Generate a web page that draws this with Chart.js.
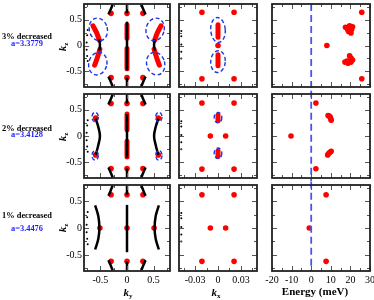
<!DOCTYPE html>
<html>
<head>
<meta charset="utf-8">
<script src="https://cdn.jsdelivr.net/npm/chart.js@4.4.0/dist/chart.umd.min.js"></script>
<style>
  body { margin: 0; width: 374px; height: 300px; position: relative; background: #fff; overflow: hidden; font-family: 'Liberation Serif', serif; }
  canvas { position: absolute; }
  .txt { position: absolute; white-space: nowrap; transform: translate(-50%, -50%); line-height: 1; }
  .row-name { font-weight: bold; font-size: 8.4px; color: #000; }
  .row-a { font-weight: bold; font-size: 8.4px; color: #1a1aff; }
  .ax { font-size: 11px; font-weight: bold; }
  .ax sub { font-size: 7px; vertical-align: -2px; }
  .rot { transform: translate(-50%, -50%) rotate(-90deg); }
</style>
</head>
<body>
<script>
// ---- axes ----
const kyTicks = [-0.75, -0.5, -0.25, 0, 0.25, 0.5, 0.75];
const kyLabels = [-0.5, 0, 0.5];
const kxTicks = [-0.045, -0.03, -0.015, 0, 0.015, 0.03, 0.045];
const kxLabels = [-0.03, 0, 0.03];
const kzTicks = [-0.75, -0.5, -0.25, 0, 0.25, 0.5, 0.75];
const kzLabels = [-0.5, 0, 0.5];
const energyTicks = [-20, -15, -10, -5, 0, 5, 10, 15, 20, 25, 30];
const energyLabels = [-20, -10, 0, 10, 20, 30];

const rowNames = ['3% decreased', '2% decreased', '1% decreased'];
const latticeA = ['a=3.3779', 'a=3.4128', 'a=3.4476'];

// ---- column 1: k_y vs k_z ----
const hooks = [
  [[-0.35, 0.6], [-0.31, 0.69], [-0.27, 0.79]],
  [[0, 0.62], [0, 0.79]],
  [[0.35, 0.6], [0.31, 0.69], [0.27, 0.79]],
  [[-0.35, -0.6], [-0.31, -0.69], [-0.27, -0.79]],
  [[0, -0.62], [0, -0.79]],
  [[0.35, -0.6], [0.31, -0.69], [0.27, -0.79]]
];
const edgeDots = [[-0.3, 0.62], [0, 0.62], [0.3, 0.62], [-0.3, -0.62], [0, -0.62], [0.3, -0.62]];
const kyEdgeBits = [[-0.74, 0.3], [-0.75, 0.2], [-0.76, 0.06], [-0.76, -0.08], [-0.75, -0.2], [-0.74, -0.3]];

const ky3Black = [
  [[0, 0.46], [0, -0.48]],
  [[-0.52, 0.12], [-0.51, 0], [-0.52, -0.1]],
  [[0.52, 0.12], [0.51, 0], [0.52, -0.1]]
];
const ky3Red = [
  [[0, 0.4], [0, 0.14]],
  [[0, -0.06], [0, -0.45]],
  [[-0.64, 0.38], [-0.57, 0.24], [-0.52, 0.1]],
  [[-0.51, -0.07], [-0.56, -0.24], [-0.61, -0.38]],
  [[0.64, 0.38], [0.57, 0.24], [0.52, 0.1]],
  [[0.51, -0.07], [0.56, -0.24], [0.61, -0.38]]
];
const ky3Ellipses = [[-0.54, 0.31, 0.17, 0.22, -15], [-0.55, -0.35, 0.17, 0.22, 15], [0.53, 0.31, 0.17, 0.22, 15], [0.54, -0.35, 0.17, 0.22, -15]];

const ky2Black = [
  [[0, 0.42], [0, -0.42]],
  [[-0.59, 0.33], [-0.54, 0.17], [-0.51, 0], [-0.54, -0.17], [-0.59, -0.36]],
  [[0.59, 0.33], [0.54, 0.17], [0.51, 0], [0.54, -0.17], [0.59, -0.36]]
];
const ky2Red = [[[0, 0.42], [0, 0.12]], [[0, -0.1], [0, -0.4]]];
const ky2Dots = [[-0.59, 0.34], [-0.59, -0.36], [0.59, 0.34], [0.59, -0.36]];
const ky2Ellipses = [[-0.6, 0.36, 0.06, 0.09, 0], [-0.6, -0.37, 0.06, 0.09, 0], [0.6, 0.36, 0.06, 0.09, 0], [0.6, -0.37, 0.06, 0.09, 0]];

const ky1Black = [
  [[0, 0.43], [0, -0.45]],
  [[-0.6, 0.42], [-0.54, 0.22], [-0.52, 0], [-0.54, -0.2], [-0.6, -0.4]],
  [[0.6, 0.42], [0.54, 0.22], [0.52, 0], [0.54, -0.2], [0.6, -0.4]]
];
const ky1Dots = [[-0.51, 0], [0, 0], [0.51, 0]];

// ---- column 2: k_x vs k_z ----
const kxEdgeBits = [[-0.048, 0.28], [-0.048, 0.18], [-0.048, 0.02], [-0.048, -0.12], [-0.048, -0.25]];
const kx3Dots = [[-0.021, 0.64], [0.021, 0.64], [0, 0], [-0.021, -0.64], [0.021, -0.64]];
const kx3Red = [[[0, 0.4], [0, 0.16]], [[0, -0.18], [0, -0.39]]];
const kx3Ellipses = [[0, 0.3, 0.0095, 0.24, -4], [0, -0.31, 0.0095, 0.21, 4]];
const kx2Dots = [[-0.021, 0.63], [0.021, 0.63], [-0.01, 0], [0.01, 0], [-0.021, -0.63], [0.021, -0.63]];
const kx2Red = [[[0, 0.4], [0, 0.29]], [[0, -0.28], [0, -0.39]]];
const kx2Ellipses = [[0, 0.35, 0.005, 0.1, 0], [0, -0.33, 0.005, 0.1, 0]];
const kx1Dots = [[-0.021, 0.62], [0.021, 0.62], [-0.01, 0], [0.01, 0], [-0.021, -0.62], [0.021, -0.62]];

// ---- column 3: energy vs k_z ----
const en3Dots = [[25.8, 0.64], [8, 0], [25.8, -0.64],
  [17.5, 0.35], [18.6, 0.31], [19.6, 0.38], [21.1, 0.36], [19.1, 0.27], [20.3, 0.24], [20.6, 0.31],
  [17.2, -0.32], [18.3, -0.3], [18.8, -0.34], [20.3, -0.32], [20.3, -0.24], [19.6, -0.2], [21.1, -0.28]];
const en2Dots = [[2.4, 0.63], [-10.3, 0], [2.4, -0.625],
  [8.6, 0.39], [9.2, 0.38], [9.7, 0.36], [10, 0.33], [10.2, 0.3],
  [10.2, -0.29], [9.6, -0.31], [9, -0.33], [8.4, -0.36]];
const en1Dots = [[7.6, 0.62], [-1, 0], [7.6, -0.62]];
const fermiLine = [[[0, 0.8], [0, -0.86]], [[0, 0.86], [0, -0.86]], [[0, 0.86], [0, -0.8]]];

// ---- layout ----
const colBox = [[84, 171], [173, 258], [262, 370]];
const rowBox = [[3, 90], [93, 181], [184, 271]];
const padL = [34, 6, 10], padR = [3, 3, 4];

const pts = a => a.map(([x, y]) => ({ x, y }));
const blackLine = p => ({ data: pts(p), showLine: true, borderColor: '#000', borderWidth: 2.5, pointRadius: 0, tension: 0.4 });
const redLine = p => ({ data: pts(p), showLine: true, borderColor: '#ff0000', borderWidth: 5, borderCapStyle: 'round', pointRadius: 0, tension: 0.4 });
const redDots = p => ({ data: pts(p), pointRadius: 2.8, pointBackgroundColor: '#ff0000', pointBorderWidth: 0 });
const blackDots = p => ({ data: pts(p), pointRadius: 1, pointBackgroundColor: '#000', pointBorderWidth: 0 });

const framePlugin = {
  id: 'frame',
  afterDatasetsDraw(chart, args, o) {
    const { ctx, chartArea: a, scales: { x, y } } = chart;
    ctx.save();
    ctx.strokeStyle = '#1f35e0';
    ctx.lineWidth = 1.4;
    ctx.setLineDash([4, 2.5]);
    (o.ellipses || []).forEach(([cx, cy, rx, ry, rot]) => {
      const px = x.getPixelForValue(cx), py = y.getPixelForValue(cy);
      ctx.beginPath();
      ctx.ellipse(px, py, Math.abs(x.getPixelForValue(cx + rx) - px), Math.abs(y.getPixelForValue(cy + ry) - py),
        rot * Math.PI / 180, 0, 2 * Math.PI);
      ctx.stroke();
    });
    ctx.setLineDash([]);
    ctx.strokeStyle = '#555';
    ctx.lineWidth = 1;
    ctx.beginPath();
    o.xTicks.forEach(v => {
      const len = o.xMajor.includes(v) ? 5 : 3;
      const p = Math.round(x.getPixelForValue(v)) + 0.5;
      ctx.moveTo(p, a.bottom); ctx.lineTo(p, a.bottom - len);
      ctx.moveTo(p, a.top); ctx.lineTo(p, a.top + len);
    });
    o.yTicks.forEach(v => {
      const len = o.yMajor.includes(v) ? 5 : 3;
      const p = Math.round(y.getPixelForValue(v)) + 0.5;
      ctx.moveTo(a.left, p); ctx.lineTo(a.left + len, p);
      ctx.moveTo(a.right, p); ctx.lineTo(a.right - len, p);
    });
    ctx.stroke();
    ctx.strokeStyle = '#222';
    ctx.lineWidth = 1.8;
    ctx.strokeRect(a.left, a.top, a.right - a.left, a.bottom - a.top);
    ctx.restore();
  }
};

const tickFont = { family: 'Liberation Serif', size: 10 };

function panel(row, col, datasets, ellipses) {
  const [x0, x1] = colBox[col], [y0, y1] = rowBox[row];
  const L = padL[col], R = padR[col], T = 3, B = row === 2 ? 29 : 3;
  const cv = document.createElement('canvas');
  cv.width = x1 - x0 + L + R;
  cv.height = y1 - y0 + T + B;
  cv.style.left = (x0 - L) + 'px';
  cv.style.top = (y0 - T) + 'px';
  document.body.appendChild(cv);

  const xt = [kyTicks, kxTicks, energyTicks][col];
  const xl = [kyLabels, kxLabels, energyLabels][col];
  const xr = [[-0.81, 0.81], [-0.051, 0.051], [-20, 30]][col];
  const showY = col === 0, showX = row === 2;

  new Chart(cv, {
    type: 'scatter',
    data: { datasets },
    options: {
      responsive: false, animation: false, events: [],
      layout: { padding: { left: showY ? 0 : L, right: R, top: T, bottom: showX ? 0 : B } },
      plugins: {
        legend: { display: false }, tooltip: { enabled: false },
        frame: { ellipses, xTicks: xt, xMajor: xl, yTicks: kzTicks, yMajor: kzLabels }
      },
      scales: {
        x: {
          type: 'linear', min: xr[0], max: xr[1], display: showX,
          grid: { display: false, drawTicks: false }, border: { display: false },
          afterBuildTicks: s => { s.ticks = xt.map(v => ({ value: v })); },
          afterFit: s => { s.height = B; s.paddingLeft = 0; s.paddingRight = 0; },
          ticks: { autoSkip: false, maxRotation: 0, padding: 3, font: tickFont, color: '#000',
            callback: v => xl.includes(v) ? String(v) : '' }
        },
        y: {
          type: 'linear', min: -0.8, max: 0.8, display: showY,
          grid: { display: false, drawTicks: false }, border: { display: false },
          afterBuildTicks: s => { s.ticks = kzTicks.map(v => ({ value: v })); },
          afterFit: s => { s.width = L; s.paddingTop = 0; s.paddingBottom = 0; },
          ticks: { autoSkip: false, padding: 2, font: tickFont, color: '#000',
            callback: v => kzLabels.includes(v) ? String(v) : '' }
        }
      }
    },
    plugins: [framePlugin]
  });
}

const hookSets = hooks.map(blackLine);

panel(0, 0, [...hookSets, ...ky3Black.map(blackLine), blackDots(kyEdgeBits), ...ky3Red.map(redLine), redDots(edgeDots)], ky3Ellipses);
panel(1, 0, [...hookSets, ...ky2Black.map(blackLine), blackDots(kyEdgeBits), ...ky2Red.map(redLine), redDots(edgeDots), redDots(ky2Dots)], ky2Ellipses);
panel(2, 0, [...hookSets, ...ky1Black.map(blackLine), blackDots(kyEdgeBits), redDots(edgeDots), redDots(ky1Dots)], []);

panel(0, 1, [blackDots(kxEdgeBits), ...kx3Red.map(redLine), redDots(kx3Dots)], kx3Ellipses);
panel(1, 1, [blackDots(kxEdgeBits), ...kx2Red.map(redLine), redDots(kx2Dots)], kx2Ellipses);
panel(2, 1, [blackDots(kxEdgeBits), redDots(kx1Dots)], []);

const fermi = r => ({ data: pts(fermiLine[r]), showLine: true, borderColor: '#4a55ee', borderWidth: 1.8, borderDash: [7, 4], pointRadius: 0, clip: false });
panel(0, 2, [fermi(0), redDots(en3Dots)], []);
panel(1, 2, [fermi(1), redDots(en2Dots)], []);
panel(2, 2, [fermi(2), redDots(en1Dots)], []);

// ---- text ----
const rowCentre = [46.5, 137, 227.5];
const nameY = [[37, 43.5], [128.5, 135], [215.5, 228.5]];
function addText(html, cls, x, y) {
  const d = document.createElement('div');
  d.className = 'txt ' + cls;
  d.innerHTML = html;
  d.style.left = x + 'px';
  d.style.top = y + 'px';
  document.body.appendChild(d);
}
rowNames.forEach((n, i) => {
  addText(n, 'row-name', 27, nameY[i][0]);
  addText(latticeA[i], 'row-a', 27, nameY[i][1]);
  addText('<i>k</i><sub>z</sub>', 'ax rot', 63, rowCentre[i]);
});
addText('<i>k</i><sub>y</sub>', 'ax', 128, 293);
addText('<i>k</i><sub>x</sub>', 'ax', 216, 293);
addText('Energy (meV)', 'ax', 315, 291);
</script>
</body>
</html>
